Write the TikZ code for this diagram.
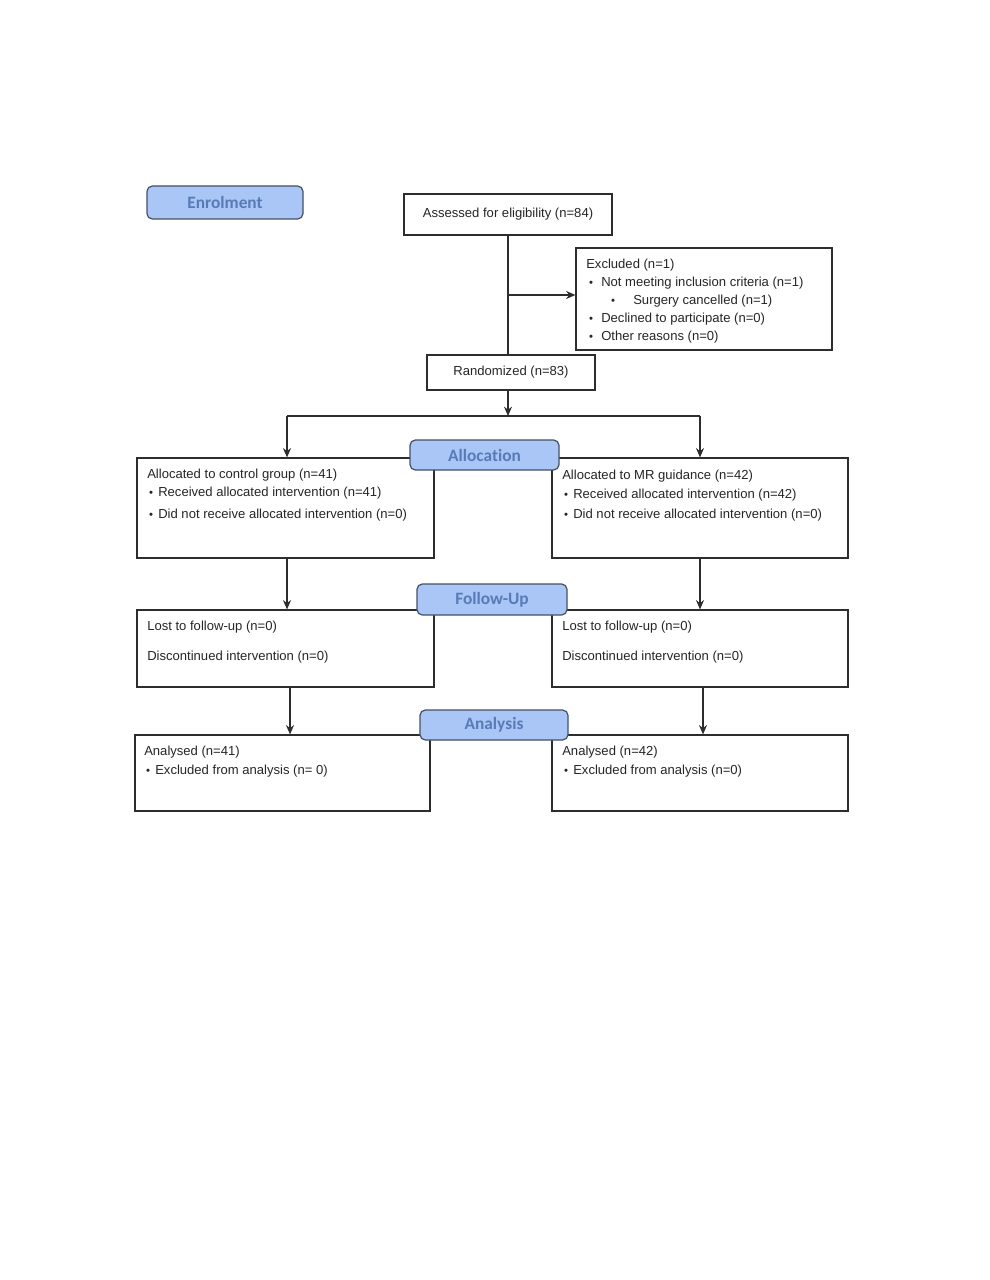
\documentclass[tikz,border=0pt]{standalone}
\usepackage{fontspec}
\setmainfont{Liberation Sans}
\newfontfamily\lblfont[Ligatures={NoCommon,NoRare}]{Carlito}
\usetikzlibrary{fit,arrows.meta}
\definecolor{lblfill}{RGB}{169,198,247}
\definecolor{lbltext}{RGB}{88,122,182}
\definecolor{lbldraw}{RGB}{70,80,100}
\definecolor{boxdraw}{RGB}{45,45,45}
\tikzset{
  box/.style={draw=boxdraw, line width=0.9pt, fill=white, inner sep=0pt},
  stagelbl/.style={draw=lbldraw, line width=0.9pt, fill=lblfill, rounded corners=4pt, inner sep=0pt},
  lbltxt/.style={inner sep=0pt, font=\lblfont\bfseries\fontsize{13}{15}\selectfont, text=lbltext},
  txt/.style={anchor=west, inner sep=0pt, font=\fontsize{9.8}{11}\selectfont, text=black!85},
  ctxt/.style={anchor=center, inner sep=0pt, font=\fontsize{9.8}{11}\selectfont, text=black!85},
  bul/.style={anchor=center, inner sep=0pt, font=\fontsize{8.5}{9}\selectfont, text=black!85},
  conn/.style={draw=boxdraw, line width=0.8pt},
  arr/.style={conn, -{Stealth[length=7pt,width=6pt]}}
}
\begin{document}
\begin{tikzpicture}[x=0.75pt,y=-0.75pt]
\useasboundingbox (0,0) rectangle (989,1280);
\fill[white] (0,0) rectangle (989,1280);

% boxes
\node[box, fit={(404,194)(612,235)}] (assess) {};
\node[box, fit={(576,248)(832,350)}] (excl) {};
\node[box, fit={(427,355)(595,390)}] (rand) {};
\node[box, fit={(137,458)(434,558)}] (al1) {};
\node[box, fit={(552,458)(848,558)}] (al2) {};
\node[box, fit={(137,610)(434,687)}] (fu1) {};
\node[box, fit={(552,610)(848,687)}] (fu2) {};
\node[box, fit={(135,735)(430,811)}] (an1) {};
\node[box, fit={(552,735)(848,811)}] (an2) {};

% connectors
\coordinate (split) at (508,295);
\coordinate (hub) at (508,416);
\coordinate (hl) at (287,416);
\coordinate (hr) at (700,416);
\draw[conn] (assess.south -| split) -- (rand.north -| split);
\draw[arr] (split) -- (excl.west |- split);
\draw[arr] (rand.south -| hub) -- (hub);
\draw[conn] (hl) -- (hr);
\draw[arr] (hl) -- (al1.north -| hl);
\draw[arr] (hr) -- (al2.north -| hr);
\coordinate (c1) at (287,0);
\coordinate (c2) at (700,0);
\coordinate (c3) at (290,0);
\coordinate (c4) at (703,0);
\draw[arr] (al1.south -| c1) -- (fu1.north -| c1);
\draw[arr] (al2.south -| c2) -- (fu2.north -| c2);
\draw[arr] (fu1.south -| c3) -- (an1.north -| c3);
\draw[arr] (fu2.south -| c4) -- (an2.north -| c4);

% stage labels
\node[stagelbl, fit={(147,186)(303,219)}] (enr) {};
\node[lbltxt] at (enr.center) {Enrolment};
\node[stagelbl, fit={(410,440)(559,470)}] (alloc) {};
\node[lbltxt] at (alloc.center) {Allocation};
\node[stagelbl, fit={(417,584)(567,615)}] (follow) {};
\node[lbltxt] at (follow.center) {Follow-Up};
\node[stagelbl, fit={(420,710)(568,740)}] (analysis) {};
\node[lbltxt] at (analysis.center) {Analysis};

% texts
\node[ctxt] at (assess.center) {Assessed for eligibility (n=84)};
\node[ctxt] at (rand.center) {Randomized (n=83)};

\node[txt] at (586,265) {Excluded (n=1)};
\node[bul] at (591,284) {•}; \node[txt] at (601,283) {Not meeting inclusion criteria (n=1)};
\node[bul] at (613,302) {•}; \node[txt] at (633,301) {Surgery cancelled (n=1)};
\node[bul] at (591,320) {•}; \node[txt] at (601,319) {Declined to participate (n=0)};
\node[bul] at (591,338) {•}; \node[txt] at (601,337) {Other reasons (n=0)};

\node[txt] at (147,475) {Allocated to control group (n=41)};
\node[bul] at (151,494) {•}; \node[txt] at (158,493) {Received allocated intervention (n=41)};
\node[bul] at (151,516) {•}; \node[txt] at (158,515) {Did not receive allocated intervention (n=0)};

\node[txt] at (562,476) {Allocated to MR guidance (n=42)};
\node[bul] at (566,496) {•}; \node[txt] at (573,495) {Received allocated intervention (n=42)};
\node[bul] at (566,516) {•}; \node[txt] at (573,515) {Did not receive allocated intervention (n=0)};

\node[txt] at (147,627) {Lost to follow-up (n=0)};
\node[txt] at (147,657) {Discontinued intervention (n=0)};
\node[txt] at (562,627) {Lost to follow-up (n=0)};
\node[txt] at (562,657) {Discontinued intervention (n=0)};

\node[txt] at (144,752) {Analysed (n=41)};
\node[bul] at (148,772) {•}; \node[txt] at (155,771) {Excluded from analysis (n= 0)};
\node[txt] at (562,752) {Analysed (n=42)};
\node[bul] at (566,772) {•}; \node[txt] at (573,771) {Excluded from analysis (n=0)};
\end{tikzpicture}
\end{document}
